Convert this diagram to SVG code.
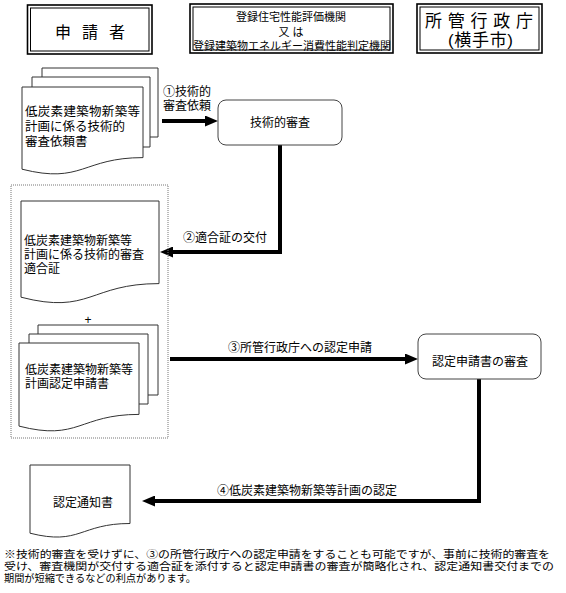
<svg xmlns="http://www.w3.org/2000/svg" width="566" height="593" viewBox="0 0 566 593">
<style>
text{font-family:"Liberation Sans","Noto Sans CJK JP","Noto Sans CJK SC",sans-serif;fill:#000}
.t105{font-size:10.5px}
.t11{font-size:11px}
.t12{font-size:12px}
.t125{font-size:12.5px}
.t16{font-size:16px}
.t17{font-size:17px}
.mid{text-anchor:middle}
.ob{fill:#fff;stroke:#000;stroke-width:1.6}
.ib{fill:none;stroke:#000;stroke-width:1}
.doc{fill:#fff;stroke:#333;stroke-width:1}
.back{fill:#fff;stroke:#333;stroke-width:1}
.rbox{fill:#fff;stroke:#444;stroke-width:1}
.con{fill:none;stroke:#000;stroke-width:4;stroke-linejoin:miter}
.dot{fill:none;stroke:#777;stroke-width:1;stroke-dasharray:1 1}
</style>
<defs>
<marker id="ah" markerUnits="userSpaceOnUse" markerWidth="13" markerHeight="11" refX="5" refY="5.5" orient="auto">
<path d="M0,0 L13,5.5 L0,11 Z" fill="#000"/>
</marker>
</defs>
<rect width="566" height="593" fill="#fff"/>

<g id="applicant">
<rect class="ob" x="27.5" y="5" width="124.5" height="49"/>
<rect class="ib" x="30.5" y="8" width="118.5" height="43"/>
<text class="t16" x="55" y="37.5" textLength="70" lengthAdjust="spacing">申 請 者</text>
</g>

<g id="agency">
<rect class="ob" x="190" y="4" width="203" height="49"/>
<rect class="ib" x="193" y="7" width="197" height="43"/>
<text class="t11 mid"><tspan x="291" y="20.5">登録住宅性能評価機関</tspan><tspan x="291" y="35.5">又 は</tspan><tspan x="292" y="50">登録建築物エネルギー消費性能判定機関</tspan></text>
</g>

<g id="authority">
<rect class="ob" x="417" y="4" width="125" height="49"/>
<rect class="ib" x="420" y="7" width="119" height="43"/>
<text class="t17"><tspan x="425" y="26.5" textLength="108" lengthAdjust="spacing">所管行政庁</tspan><tspan x="448" y="46" textLength="65" lengthAdjust="spacing">(横手市)</tspan></text>
</g>

<g id="connectors">
<path class="con" d="M162,121 H210" marker-end="url(#ah)"/>
<path class="con" d="M280,145 V252 H168" marker-end="url(#ah)"/>
<path class="con" d="M170,359 H410" marker-end="url(#ah)"/>
<path class="con" d="M479,379 V501 H150" marker-end="url(#ah)"/>
<text class="t12"><tspan x="163" y="96">①技術的</tspan><tspan x="163" y="110">審査依頼</tspan></text>
<text class="t12" x="183" y="242">②適合証の交付</text>
<text class="t12 mid" x="300" y="352">③所管行政庁への認定申請</text>
<text class="t12 mid" x="307" y="495">④低炭素建築物新築等計画の認定</text>
</g>

<g id="request-doc">
<path class="back" d="M42,77 V68 H158 V137 H150"/>
<path class="back" d="M32,87 V77 H150 V147 H143"/>
<path class="doc" d="M22,87 H143 V157.6 C82.5,157.6 82.5,184.4 22,169.2 Z"/>
<text class="t125"><tspan x="25" y="116" textLength="115" lengthAdjust="spacing">低炭素建築物新築等</tspan><tspan x="25" y="131">計画に係る技術的</tspan><tspan x="25" y="145.5">審査依頼書</tspan></text>
</g>

<g id="tech-review">
<rect class="rbox" x="218" y="100" width="124" height="45" rx="8"/>
<text class="t12 mid" x="280" y="127">技術的審査</text>
</g>

<g id="submission-group">
<rect class="dot" x="11" y="185" width="157" height="253"/>
</g>

<g id="certificate-doc">
<path class="doc" d="M21,201 H159 V283.6 C90,283.6 90,315 21,297.2 Z"/>
<text class="t12"><tspan x="24" y="245">低炭素建築物新築等</tspan><tspan x="24" y="259">計画に係る技術的審査</tspan><tspan x="24" y="273">適合証</tspan></text>
</g>

<g id="plus">
<text class="t12 mid" x="88" y="324">+</text>
</g>

<g id="application-doc">
<path class="back" d="M38,334 V325 H158 V395 H148"/>
<path class="back" d="M29,343 V334 H148 V404 H139"/>
<path class="doc" d="M19,343 H139 V414.4 C79,414.4 79,441.5 19,426.1 Z"/>
<text class="t12"><tspan x="25" y="374">低炭素建築物新築等</tspan><tspan x="25" y="387.5">計画認定申請書</tspan></text>
</g>

<g id="app-review">
<rect class="rbox" x="418" y="334" width="123" height="45" rx="8"/>
<text class="t12 mid" x="480" y="366">認定申請書の審査</text>
</g>

<g id="notice-doc">
<path class="doc" d="M30,465 H130 V523.5 C80,523.5 80,545.8 30,533.2 Z"/>
<text class="t12 mid" x="83" y="507">認定通知書</text>
</g>

<g id="footnote">
<text class="t105"><tspan x="4" y="557.5" textLength="546" lengthAdjust="spacingAndGlyphs">※技術的審査を受けずに、③の所管行政庁への認定申請をすることも可能ですが、事前に技術的審査を</tspan><tspan x="4" y="569.5" textLength="550" lengthAdjust="spacingAndGlyphs">受け、審査機関が交付する適合証を添付すると認定申請書の審査が簡略化され、認定通知書交付までの</tspan><tspan x="4" y="581.5" textLength="192" lengthAdjust="spacingAndGlyphs">期間が短縮できるなどの利点があります。</tspan></text>
</g>
</svg>
